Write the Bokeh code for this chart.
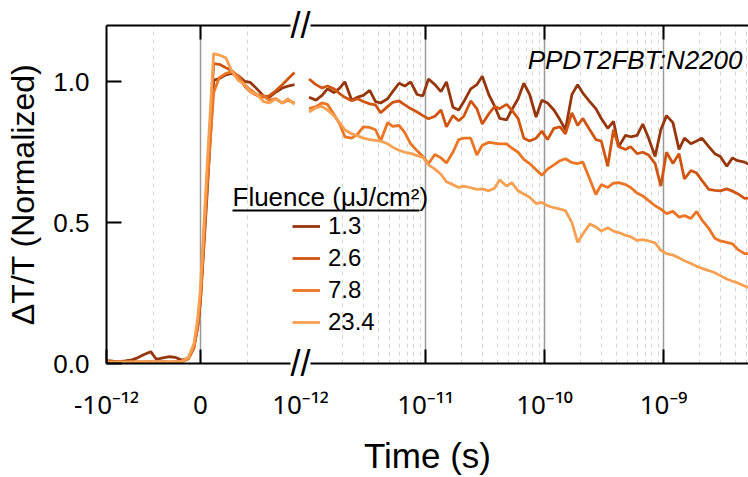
import math
from bokeh.plotting import figure
from bokeh.models import (Range1d, LogAxis, LogScale, FixedTicker, Grid,
                          CustomJSTickFormatter, NumeralTickFormatter, Legend,
                          LegendItem, Label, BoxAnnotation)
from bokeh.embed import file_html
from bokeh.resources import INLINE

# ---------------- data ----------------
fluences = ["1.3", "2.6", "7.8", "23.4"]
colors = ["#96360c", "#cf5510", "#ec7524", "#f7a052"]

# early (linear) time window, ps
t_early_ps = [-1.0, -0.93, -0.87, -0.8, -0.73, -0.67, -0.6, -0.53, -0.47, -0.4,
              -0.33, -0.27, -0.2, -0.13, -0.07, -0.03, 0.0, 0.07, 0.14, 0.2,
              0.27, 0.33, 0.4, 0.47, 0.53, 0.6, 0.67, 0.73, 0.8, 0.87, 0.93, 1.0]
early_13 = [0.01, 0.008, 0.007, 0.009, 0.013, 0.02, 0.032, 0.042, 0.015, 0.02,
            0.024, 0.022, 0.012, 0.018, 0.06, 0.13, 0.22, 0.6, 1.005, 1.012,
            1.025, 1.03, 1.022, 1.002, 0.998, 0.975, 0.95, 0.945, 0.963, 0.978, 0.985, 0.99]
early_26 = [0.006, 0.005, 0.006, 0.005, 0.006, 0.005, 0.006, 0.006, 0.005, 0.006,
            0.005, 0.006, 0.007, 0.016, 0.055, 0.13, 0.23, 0.66, 1.065, 1.062,
            1.05, 1.04, 1.02, 0.985, 0.965, 0.952, 0.946, 0.95, 0.968, 0.99, 1.01, 1.033]
early_78 = [0.005, 0.006, 0.005, 0.006, 0.005, 0.006, 0.005, 0.006, 0.005, 0.006,
            0.005, 0.006, 0.007, 0.017, 0.06, 0.14, 0.24, 0.63, 0.962, 1.015,
            1.03, 1.035, 1.02, 0.99, 0.972, 0.955, 0.95, 0.935, 0.94, 0.925, 0.935, 0.925]
early_234 = [0.006, 0.005, 0.006, 0.005, 0.006, 0.005, 0.006, 0.005, 0.006, 0.005,
             0.006, 0.005, 0.008, 0.02, 0.07, 0.16, 0.27, 0.7, 1.10, 1.095,
             1.085, 1.04, 1.005, 0.99, 0.965, 0.955, 0.93, 0.925, 0.94, 0.925, 0.94, 0.92]

# late (logarithmic) time window, ps
t_late_ps = [1.05, 1.2, 1.35, 1.5, 1.7, 1.9, 2.1, 2.4, 2.7, 3.0,
             3.4, 3.8, 4.2, 4.8, 5.3, 6.0, 6.7, 7.5, 8.5, 9.5,
             10.6, 12, 13.5, 15, 17, 19, 21, 24, 27, 30,
             34, 38, 42, 48, 53, 60, 67, 75, 85, 95,
             106, 120, 135, 150, 170, 190, 210, 240, 270, 300,
             340, 380, 420, 480, 530, 600, 670, 750, 850, 950,
             1060, 1200, 1350, 1500, 1700, 1900, 2100, 2400, 2700, 3000,
             3400, 3800, 4200, 4800, 5300]
late_13 = [0.945, 0.935, 0.952, 0.975, 0.962, 0.978, 1.0, 0.935, 0.946, 0.952,
           0.97, 0.93, 0.925, 0.94, 0.965, 0.995, 0.985, 1.0, 0.955, 0.95,
           1.01, 0.99, 0.965, 1.0, 0.91, 0.9, 0.93, 0.975, 0.99, 1.02,
           0.955, 0.915, 0.87, 0.865, 0.9, 0.94, 0.995, 0.955, 0.875, 0.935,
           0.925, 0.9, 0.865, 0.83, 0.955, 0.99, 0.96, 0.93, 0.905, 0.87,
           0.835, 0.86, 0.77, 0.81, 0.805, 0.81, 0.85, 0.8, 0.735, 0.83,
           0.88, 0.855, 0.76, 0.8, 0.78, 0.79, 0.8, 0.77, 0.745, 0.735,
           0.7, 0.73, 0.72, 0.715, 0.705]
late_26 = [1.01, 0.99, 0.978, 0.985, 0.975, 0.958, 0.945, 0.933, 0.94, 0.93,
           0.922, 0.918, 0.89, 0.912, 0.927, 0.932, 0.918, 0.905, 0.893, 0.88,
           0.869, 0.878, 0.9, 0.84, 0.88, 0.862, 0.878, 0.932, 0.905, 0.85,
           0.886, 0.912, 0.905, 0.92, 0.9, 0.87, 0.8, 0.79, 0.8, 0.825,
           0.795, 0.835, 0.84, 0.815, 0.89, 0.845, 0.87, 0.83, 0.795, 0.79,
           0.70, 0.83, 0.77, 0.76, 0.77, 0.745, 0.75, 0.74, 0.71, 0.63,
           0.75, 0.71, 0.745, 0.655, 0.685, 0.676, 0.65, 0.618, 0.615, 0.613,
           0.62, 0.612, 0.603, 0.586, 0.588]
late_78 = [0.905, 0.912, 0.925, 0.92, 0.885, 0.85, 0.805, 0.8, 0.815, 0.84,
           0.838, 0.83, 0.79, 0.855, 0.842, 0.845, 0.82, 0.78, 0.755, 0.735,
           0.71, 0.742, 0.73, 0.712, 0.75, 0.795, 0.8, 0.8, 0.74, 0.775,
           0.785, 0.782, 0.78, 0.78, 0.765, 0.75, 0.725, 0.71, 0.688, 0.668,
           0.69, 0.705, 0.72, 0.727, 0.713, 0.71, 0.715, 0.655, 0.6, 0.635,
           0.625, 0.64, 0.642, 0.635, 0.625, 0.605, 0.595, 0.578, 0.56, 0.548,
           0.532, 0.54, 0.52, 0.525, 0.515, 0.54, 0.51, 0.48, 0.445, 0.435,
           0.43, 0.425, 0.405, 0.39, 0.39]
late_234 = [0.893, 0.908, 0.913, 0.9, 0.88, 0.855, 0.83, 0.815, 0.808, 0.8,
            0.795, 0.792, 0.79, 0.78, 0.768, 0.757, 0.75, 0.746, 0.738, 0.732,
            0.705, 0.69, 0.672, 0.645, 0.635, 0.625, 0.63, 0.624, 0.618, 0.62,
            0.613, 0.622, 0.652, 0.63, 0.642, 0.613, 0.602, 0.59, 0.568, 0.572,
            0.56, 0.553, 0.548, 0.543, 0.5, 0.43, 0.46, 0.495, 0.485, 0.47,
            0.482, 0.47, 0.465, 0.455, 0.45, 0.437, 0.44, 0.435, 0.428, 0.402,
            0.39, 0.385, 0.375, 0.365, 0.355, 0.345, 0.338, 0.33, 0.322, 0.312,
            0.3, 0.292, 0.286, 0.275, 0.268]

early_series = [early_13, early_26, early_78, early_234]
late_series = [late_13, late_26, late_78, late_234]

x_tick_labels = ["-10\u207b\u00b9\u00b2", "0", "10\u207b\u00b9\u00b2",
                 "10\u207b\u00b9\u00b9", "10\u207b\u00b9\u2070", "10\u207b\u2079"]
log_major = [1e-11, 1e-10, 1e-9]
lin_major = [0.0]
lin_minor = [-0.5e-12, 0.5e-12]
y_ticks = [0.0, 0.5, 1.0]
Y_LOW, Y_HIGH = 0.0, 1.2
T_LEFT = -1e-12
y_title = "\u0394T/T (Normalized)"
x_title = "Time (s)"
legend_title = "Fluence (\u03bcJ/cm\u00b2)"
sample_name = "PPDT2FBT:N2200"

# ---------------- layout of the broken axis (pixels) ----------------
W, H = 748, 477
AX_LEFT_PX = 106.0       # where the y axis sits
PX_PER_PS = 94.0         # linear part
PX_PER_DEC = 119.0       # log part
LOG_ORIGIN_PX = 306.0    # where 1e-12 s sits on the log part
AX_TOP_PX, AX_BOT_PX = 25.0, 363.0

LIN_START = T_LEFT - AX_LEFT_PX / PX_PER_PS * 1e-12
LIN_END = LIN_START + W / PX_PER_PS * 1e-12
LOG_START = -12 - LOG_ORIGIN_PX / PX_PER_DEC
LOG_END = LOG_START + W / PX_PER_DEC
PX_PER_Y = (AX_BOT_PX - AX_TOP_PX) / (Y_HIGH - Y_LOW)
Y_MIN = Y_LOW - (H - AX_BOT_PX) / PX_PER_Y
Y_MAX = Y_HIGH + AX_TOP_PX / PX_PER_Y


def lin_to_log(u):
    return 10 ** (LOG_START + (u - LIN_START) / (LIN_END - LIN_START) * (LOG_END - LOG_START))


break_pos = 10 ** ((math.log10(lin_to_log(1e-12)) + (-12)) / 2)
bottom_ticks = [lin_to_log(T_LEFT), lin_to_log(0.0), break_pos] + log_major
top_ticks = [lin_to_log(0.0)] + log_major
x_bounds = (lin_to_log(T_LEFT), 10 ** LOG_END)
log_minor = [m * 10.0 ** e for e in range(-12, -8) for m in range(2, 10)
             if m * 10.0 ** e < 10 ** LOG_END]

FONT = "Liberation Sans"
TICK_FONT = "Noto Sans"

p = figure(width=W, height=H, x_range=Range1d(LIN_START, LIN_END),
           y_range=Range1d(Y_MIN, Y_MAX), x_axis_type=None,
           output_backend="svg", toolbar_location=None,
           min_border_left=0, min_border_right=0, min_border_top=0,
           min_border_bottom=0)
p.extra_x_ranges = {"log": Range1d(10 ** LOG_START, 10 ** LOG_END)}
p.extra_x_scales = {"log": LogScale()}
p.outline_line_color = None
p.ygrid.visible = False

# y axis
ya = p.yaxis[0]
ya.fixed_location = T_LEFT
ya.bounds = (Y_LOW, Y_HIGH)
ya.ticker = FixedTicker(ticks=y_ticks)
ya.formatter = NumeralTickFormatter(format="0.0")
ya.major_tick_in = 15
ya.major_tick_out = 0
ya.minor_tick_in = 0
ya.minor_tick_out = 0
ya.axis_line_width = 2
ya.major_tick_line_width = 2
ya.axis_line_color = "black"
ya.major_tick_line_color = "black"
ya.major_label_text_font = FONT
ya.major_label_text_font_size = "26px"
ya.major_label_text_color = "black"
ya.major_label_standoff = 17
ya.axis_label = y_title
ya.axis_label_text_font = FONT
ya.axis_label_text_font_size = "32px"
ya.axis_label_text_font_style = "normal"
ya.axis_label_text_color = "black"
ya.axis_label_standoff = 9

fmt = CustomJSTickFormatter(args=dict(vals=bottom_ticks, labels=x_tick_labels), code="""
let best = 0, bd = Infinity;
for (let i = 0; i < vals.length; i++) {
  const d = Math.abs(Math.log10(tick) - Math.log10(vals[i]));
  if (d < bd) { bd = d; best = i; }
}
return labels[best];
""")

xb = LogAxis(x_range_name="log", ticker=FixedTicker(ticks=bottom_ticks), formatter=fmt,
             axis_label=x_title, fixed_location=Y_LOW, bounds=x_bounds)
xb.major_tick_in = 14
xb.major_tick_out = 0
xb.minor_tick_in = 0
xb.minor_tick_out = 0
xb.axis_line_width = 2
xb.major_tick_line_width = 2
xb.major_label_text_font = TICK_FONT
xb.major_label_text_font_size = "26px"
xb.major_label_text_color = "black"
xb.major_label_standoff = 22
xb.axis_label_text_font = FONT
xb.axis_label_text_font_size = "35px"
xb.axis_label_text_font_style = "normal"
xb.axis_label_text_color = "black"
xb.axis_label_standoff = 11
p.add_layout(xb, "below")

xt = LogAxis(x_range_name="log", ticker=FixedTicker(ticks=top_ticks),
             formatter=CustomJSTickFormatter(code="return '';"), fixed_location=Y_HIGH,
             bounds=x_bounds)
xt.major_tick_in = 14
xt.major_tick_out = 0
xt.minor_tick_in = 0
xt.minor_tick_out = 0
xt.axis_line_width = 2
xt.major_tick_line_width = 2
xt.major_label_text_font_size = "10px"
xt.major_label_standoff = 0
p.add_layout(xt, "above")

# grids
grid_style = dict(grid_line_color="#9a9a9a", grid_line_width=1.5,
                  minor_grid_line_color="#d4d4d4", minor_grid_line_width=1,
                  minor_grid_line_dash="4 4", cross_bounds=(Y_LOW, Y_HIGH))
g_lin = Grid(dimension=0, ticker=FixedTicker(ticks=lin_major, minor_ticks=lin_minor), **grid_style)
g_log = Grid(dimension=0, x_range_name="log",
             ticker=FixedTicker(ticks=log_major, minor_ticks=log_minor), **grid_style)
p.add_layout(g_lin, "center")
p.add_layout(g_log, "center")

# data
t_early = [t * 1e-12 for t in t_early_ps]
t_late = [t * 1e-12 for t in t_late_ps]
late_renderers = []
for ys_e, ys_l, c in zip(early_series, late_series, colors):
    p.line(t_early, ys_e, line_color=c, line_width=2.8)
    r = p.line(t_late, ys_l, line_color=c, line_width=2.8, x_range_name="log")
    late_renderers.append(r)

legend = Legend(items=[LegendItem(label=f, renderers=[r]) for f, r in zip(fluences, late_renderers)],
                location=(292, 141), padding=0, margin=0, spacing=4,
                glyph_width=28, glyph_height=24, label_height=24, label_standoff=8,
                label_text_font=FONT, label_text_font_size="24px", label_text_color="black",
                border_line_color=None, background_fill_alpha=0)
p.add_layout(legend, "center")

p.add_layout(Label(x=232, y=281, x_units="screen", y_units="screen", text=legend_title,
                   text_font=FONT, text_font_size="26px", text_color="black",
                   text_baseline="alphabetic", text_align="left"))
p.add_layout(BoxAnnotation(left=232, right=419, bottom=266, top=268,
                           left_units="screen", right_units="screen",
                           bottom_units="screen", top_units="screen",
                           fill_color="black", fill_alpha=1, line_color=None))
p.add_layout(Label(x=742, y=418, x_units="screen", y_units="screen", text=sample_name,
                   text_font=FONT, text_font_size="26px", text_font_style="italic",
                   text_color="black", text_baseline="alphabetic", text_align="right"))

for yb in (Y_LOW, Y_HIGH):
    p.add_layout(Label(x=300, x_units="screen", y=yb, text="//", text_font=FONT,
                       text_font_size="36px", text_color="black", text_align="center",
                       text_baseline="middle", text_line_height=1.0,
                       background_fill_color="white"))

open("out.html", "w").write(file_html(p, INLINE))
